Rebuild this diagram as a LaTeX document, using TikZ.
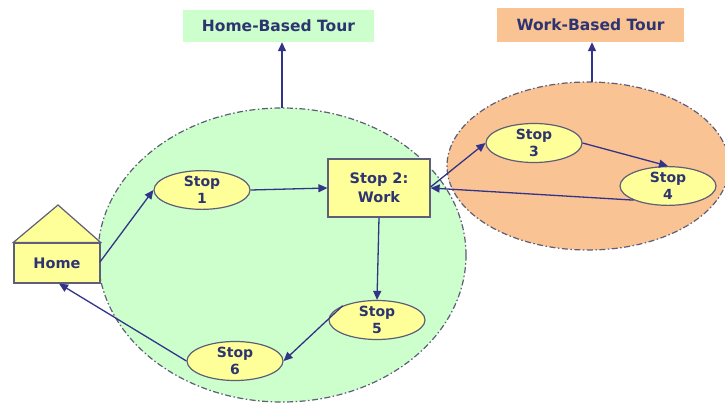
\documentclass[tikz,border=0pt]{standalone}
\usepackage{fontspec}
\setmainfont{DejaVu Sans}
\usetikzlibrary{shapes.geometric,arrows.meta}
\definecolor{navy}{HTML}{333388}
\definecolor{txt}{HTML}{2E3470}
\definecolor{edge}{HTML}{5E5E78}
\definecolor{yel}{HTML}{FFFF99}
\definecolor{grn}{HTML}{CCFFCC}
\definecolor{org}{HTML}{F9C394}
\tikzset{
  stopnode/.style={ellipse, draw=edge, line width=1.2pt, fill=yel, minimum width=96pt, minimum height=37pt, inner sep=0pt, align=center, font=\bfseries\fontsize{14}{17}\selectfont, text=txt},
  boxnode/.style={rectangle, draw=edge, line width=1.2pt, fill=yel, align=center, font=\bfseries\fontsize{14.5}{19}\selectfont, text=txt, inner sep=0pt},
  tour/.style={ellipse, draw=edge, line width=1.2pt, dash pattern=on 6pt off 2.5pt on 1.5pt off 2.5pt, inner sep=0pt},
  label/.style={rectangle, inner sep=0pt, font=\bfseries\fontsize{15.5}{18}\selectfont, text=txt},
  conn/.style={draw=navy, line width=1.3pt, -{Triangle[length=9pt,width=8pt]}}
}
\begin{document}
\begin{tikzpicture}[x=1pt,y=-1pt]
\useasboundingbox (0,0) rectangle (725,404);
\fill[white] (0,0) rectangle (725,404);
% tour areas
\node[tour, fill=grn, minimum width=368pt, minimum height=294pt] (hbt) at (282,255) {};
\node[tour, fill=org, minimum width=282pt, minimum height=168pt] (wbt) at (588,166) {};
% labels
\node[label, fill=grn, minimum width=191pt, minimum height=32pt] (hbl) at (278.5,26) {Home-Based Tour};
\node[label, fill=org, minimum width=187pt, minimum height=34pt] (wbl) at (590.5,25) {Work-Based Tour};
\coordinate (hbtop) at (282,108);
\coordinate (wbtop) at (592,82);
\draw[conn] (hbtop) -- (hbtop |- hbl.south);
\draw[conn] (wbtop) -- (wbtop |- wbl.south);
% home
\node[boxnode, minimum width=86pt, minimum height=40pt] (home) at (57,263) {Home};
\coordinate (roof) at (58,205);
\draw[edge, line width=1.2pt, fill=yel] (home.north west) -- (roof) -- (home.north east) -- cycle;
% stops
\node[stopnode] (s1) at (202,190) {Stop\\1};
\node[boxnode, minimum width=102pt, minimum height=58pt] (s2) at (379,188) {Stop 2:\\Work};
\node[stopnode] (s3) at (534,143) {Stop\\3};
\node[stopnode] (s4) at (668,186) {Stop\\4};
\node[stopnode] (s5) at (377,320) {Stop\\5};
\node[stopnode] (s6) at (235,361) {Stop\\6};
% connectors
\coordinate (h1) at (100,262);
\draw[conn] (h1) -- (s1.west);
\draw[conn] (s1.east) -- (s2.west);
\draw[conn] ([yshift=1pt]s2.east) -- (s3.west);
\draw[conn] (s3.east) -- (s4.north);
\draw[conn] (s4.south west) -- (s2.east);
\draw[conn] (s2.south) -- (s5.north);
\draw[conn] (s5.north west) -- (s6.east);
\draw[conn] (s6.west) -- ([xshift=2pt]home.south);
\end{tikzpicture}
\end{document}
